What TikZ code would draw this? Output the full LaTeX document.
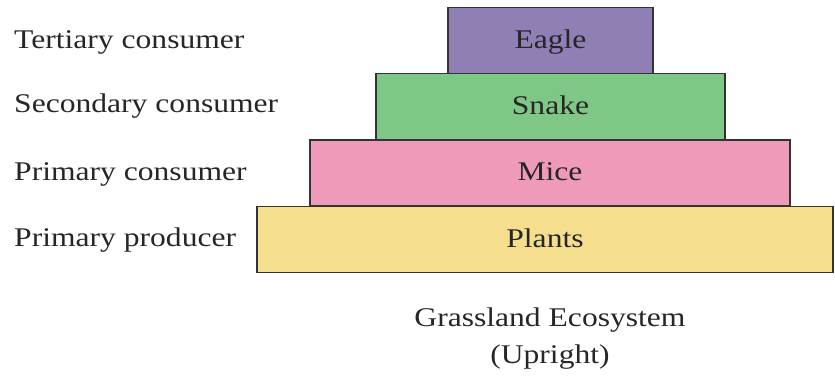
\documentclass[tikz,border=0pt]{standalone}
\usepackage{fontspec}
\setmainfont{Liberation Serif}[FakeStretch=1.17]
\definecolor{eaglecol}{HTML}{8F7FB5}
\definecolor{snakecol}{HTML}{7FC786}
\definecolor{micecol}{HTML}{F09ABB}
\definecolor{plantcol}{HTML}{F5DF8F}
\begin{document}
\begin{tikzpicture}[x=1pt, y=-1pt, font=\fontsize{27}{30}\selectfont,
  level/.style={draw=black!80, line width=1.3pt, minimum height=66pt, inner sep=0pt, text=black!85,
    text height=19pt, text depth=3pt},
  tag/.style={anchor=west, inner sep=0pt, text=black!85}]
\useasboundingbox (0,0) rectangle (835,379);
\node[level, fill=plantcol, minimum width=576pt] (plants) at (545,239.5) {Plants};
\node[level, fill=micecol, minimum width=480pt] (mice) at (550,173) {Mice};
\node[level, fill=snakecol, minimum width=349pt] (snake) at (550.5,106.5) {Snake};
\node[level, fill=eaglecol, minimum width=205pt] (eagle) at (550.5,40.5) {Eagle};
\node[tag] (tertiary) at (14,42) {Tertiary consumer};
\node[tag] (secondary) at (14,106) {Secondary consumer};
\node[tag] (primary) at (14,174) {Primary consumer};
\node[tag] (producer) at (14,240) {Primary producer};
\node[text=black!85] (title) at (550,320) {Grassland Ecosystem};
\node[text=black!85] (kind) at (550,357) {(Upright)};
\end{tikzpicture}
\end{document}
